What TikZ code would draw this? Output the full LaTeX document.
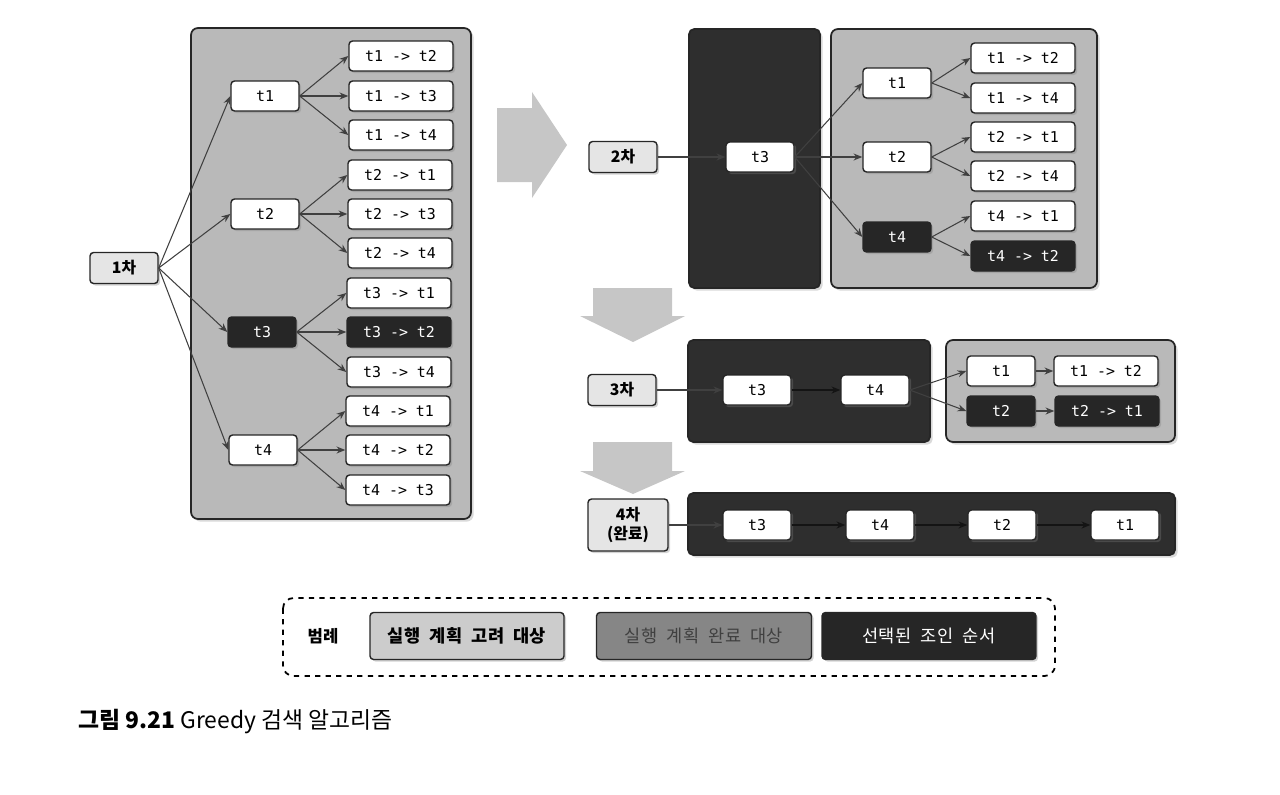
\documentclass[tikz,border=0pt]{standalone}
\usepackage{fontspec}
\setmainfont{Noto Sans CJK KR}
\setmonofont{DejaVu Sans Mono}
\usepackage{tikz}
\usetikzlibrary{arrows.meta,shadows}

\begin{document}
\begin{tikzpicture}[x=0.02cm,y=-0.02cm]
      \tikzset{task box/.style={draw=black!85,
          line width=0.8pt,
          rounded corners=2pt,
          fill=#1,
          minimum width=1.36cm,
          minimum height=0.6cm,
          inner sep=1pt,
          font=\ttfamily\fontsize{8.5}{9}\selectfont,
          drop shadow={opacity=0.35,shadow xshift=1.2pt,shadow yshift=-1.2pt}},
        task box/.default=white,
        join box/.style={task box=#1, minimum width=2.08cm},
        join box/.default=white,
        done box/.style={text=white!85, fill=black!85},
        stage box/.style={task box=black!10, minimum width=1.36cm, minimum height=0.62cm,
          font=\bfseries\fontsize{9}{10.5}\selectfont, align=center},
        open panel/.style={draw=black!85, line width=1pt, rounded corners=4pt, fill=gray!55,
          drop shadow={opacity=0.3,shadow xshift=1.5pt,shadow yshift=-1.5pt}},
        done panel/.style={draw=black!85, line width=1pt, rounded corners=3pt, fill=black!82,
          drop shadow={opacity=0.3,shadow xshift=1.5pt,shadow yshift=-1.5pt}},
        big arrow/.style={fill=gray!45, draw=none},
        link/.style={draw=black!75, line width=0.6pt, -{Stealth[length=5pt,width=4pt]}},
        hidden link/.style={link, draw=black!92},
        key box/.style={task box=#1, minimum height=0.94cm, font=\fontsize{10}{11}\selectfont}
      }
      \newcommand{\gap}{\hspace{0.55em}}
      \useasboundingbox (0,0) rectangle (1280,794);

      % 1st round
      \draw [open panel] (191,28) rectangle (471,519);
      \node [stage box] (s1) at (124,268) {1차};
      \node [task box] (a1) at (265,96) {t1};
      \node [task box] (a2) at (265,214) {t2};
      \node [task box, done box] (a3) at (262,332) {t3};
      \node [task box] (a4) at (263,450) {t4};
      \node [join box] (a12) at (401,56) {t1 -> t2};
      \node [join box] (a13) at (401,96) {t1 -> t3};
      \node [join box] (a14) at (401,135) {t1 -> t4};
      \node [join box] (a21) at (400,175) {t2 -> t1};
      \node [join box] (a23) at (400,214) {t2 -> t3};
      \node [join box] (a24) at (400,253) {t2 -> t4};
      \node [join box] (a31) at (399,293) {t3 -> t1};
      \node [join box, done box] (a32) at (399,332) {t3 -> t2};
      \node [join box] (a34) at (399,372) {t3 -> t4};
      \node [join box] (a41) at (398,411) {t4 -> t1};
      \node [join box] (a42) at (398,450) {t4 -> t2};
      \node [join box] (a43) at (398,490) {t4 -> t3};
      \draw [link] (s1.east) -- (a1.west);
      \draw [link] (s1.east) -- (a2.west);
      \draw [link] (s1.east) -- (a3.west);
      \draw [link] (s1.east) -- (a4.west);
      \draw [link] (a1.east) -- (a12.west);
      \draw [link] (a1.east) -- (a13.west);
      \draw [link] (a1.east) -- (a14.west);
      \draw [link] (a2.east) -- (a21.west);
      \draw [link] (a2.east) -- (a23.west);
      \draw [link] (a2.east) -- (a24.west);
      \draw [link] (a3.east) -- (a31.west);
      \draw [link] (a3.east) -- (a32.west);
      \draw [link] (a3.east) -- (a34.west);
      \draw [link] (a4.east) -- (a41.west);
      \draw [link] (a4.east) -- (a42.west);
      \draw [link] (a4.east) -- (a43.west);

      \draw [big arrow] (497,108) -- (532,108) -- (532,92) -- (567,145) -- (532,198)
        -- (532,182) -- (497,182) -- cycle;

      % 2nd round
      \draw [done panel] (689,29) rectangle (820,288);
      \draw [open panel] (831,29) rectangle (1097,288);
      \node [stage box] (s2) at (623,157) {2차};
      \node [task box] (b3) at (760,157) {t3};
      \node [task box] (b1) at (897,83) {t1};
      \node [task box] (b2) at (897,157) {t2};
      \node [task box, done box] (b4) at (897,237) {t4};
      \node [join box] (b12) at (1023,58) {t1 -> t2};
      \node [join box] (b14) at (1023,98) {t1 -> t4};
      \node [join box] (b21) at (1023,137) {t2 -> t1};
      \node [join box] (b24) at (1023,176) {t2 -> t4};
      \node [join box] (b41) at (1023,216) {t4 -> t1};
      \node [join box, done box] (b42) at (1023,256) {t4 -> t2};
      \draw [link] (s2.east) -- (b3.west);
      \draw [link] (b3.east) -- (b1.west);
      \draw [link] (b3.east) -- (b2.west);
      \draw [link] (b3.east) -- (b4.west);
      \draw [link] (b1.east) -- (b12.west);
      \draw [link] (b1.east) -- (b14.west);
      \draw [link] (b2.east) -- (b21.west);
      \draw [link] (b2.east) -- (b24.west);
      \draw [link] (b4.east) -- (b41.west);
      \draw [link] (b4.east) -- (b42.west);

      \draw [big arrow] (593,288) -- (672,288) -- (672,316) -- (685,316) -- (633,342)
        -- (580,316) -- (593,316) -- cycle;

      % 3rd round
      \draw [done panel] (688,340) rectangle (930,442);
      \draw [open panel] (946,340) rectangle (1175,442);
      \node [stage box] (s3) at (622,390) {3차};
      \node [task box] (c3) at (757,390) {t3};
      \node [task box] (c4) at (875,390) {t4};
      \node [task box] (c1) at (1001,371) {t1};
      \node [task box, done box] (c2) at (1001,411) {t2};
      \node [join box] (c12) at (1106,371) {t1 -> t2};
      \node [join box, done box] (c21) at (1107,411) {t2 -> t1};
      \draw [link] (s3.east) -- (c3.west);
      \draw [hidden link] (c3.east) -- (c4.west);
      \draw [link] (c4.east) -- (c1.west);
      \draw [link] (c4.east) -- (c2.west);
      \draw [link] (c1.east) -- (c12.west);
      \draw [link] (c2.east) -- (c21.west);

      \draw [big arrow] (593,442) -- (672,442) -- (672,471) -- (685,471) -- (633,494)
        -- (580,471) -- (593,471) -- cycle;

      % 4th round (done)
      \draw [done panel] (688,493) rectangle (1175,555);
      \node [stage box, minimum width=1.6cm, minimum height=1.04cm] (s4) at (628,525) {4차\\(완료)};
      \node [task box] (d3) at (757,525) {t3};
      \node [task box] (d4) at (880,525) {t4};
      \node [task box] (d2) at (1002,525) {t2};
      \node [task box] (d1) at (1125,525) {t1};
      \draw [link] (s4.east) -- (d3.west);
      \draw [hidden link] (d3.east) -- (d4.west);
      \draw [hidden link] (d4.east) -- (d2.west);
      \draw [hidden link] (d2.east) -- (d1.west);

      % legend
      \draw [dashed, line width=1pt, rounded corners=6pt] (283,598) rectangle (1055,676);
      \node [font=\bfseries\fontsize{9.5}{10}\selectfont] (key) at (323,636) {범례};
      \node [key box=gray!40, minimum width=3.88cm, font=\bfseries\fontsize{10}{11}\selectfont]
        (k1) at (467,636) {실행\gap 계획\gap 고려\gap 대상};
      \node [key box=gray!95, text=black!75, minimum width=4.3cm]
        (k2) at (704,636) {실행\gap 계획\gap 완료\gap 대상};
      \node [key box=black!85, text=white, minimum width=4.28cm]
        (k3) at (929,636) {선택된\gap 조인\gap 순서};

      \node [anchor=west, inner sep=0pt, font=\fontsize{13}{15}\selectfont] (cap) at (78,722)
        {\textbf{그림 9.21} Greedy 검색 알고리즘};

    \end{tikzpicture}
\end{document}
